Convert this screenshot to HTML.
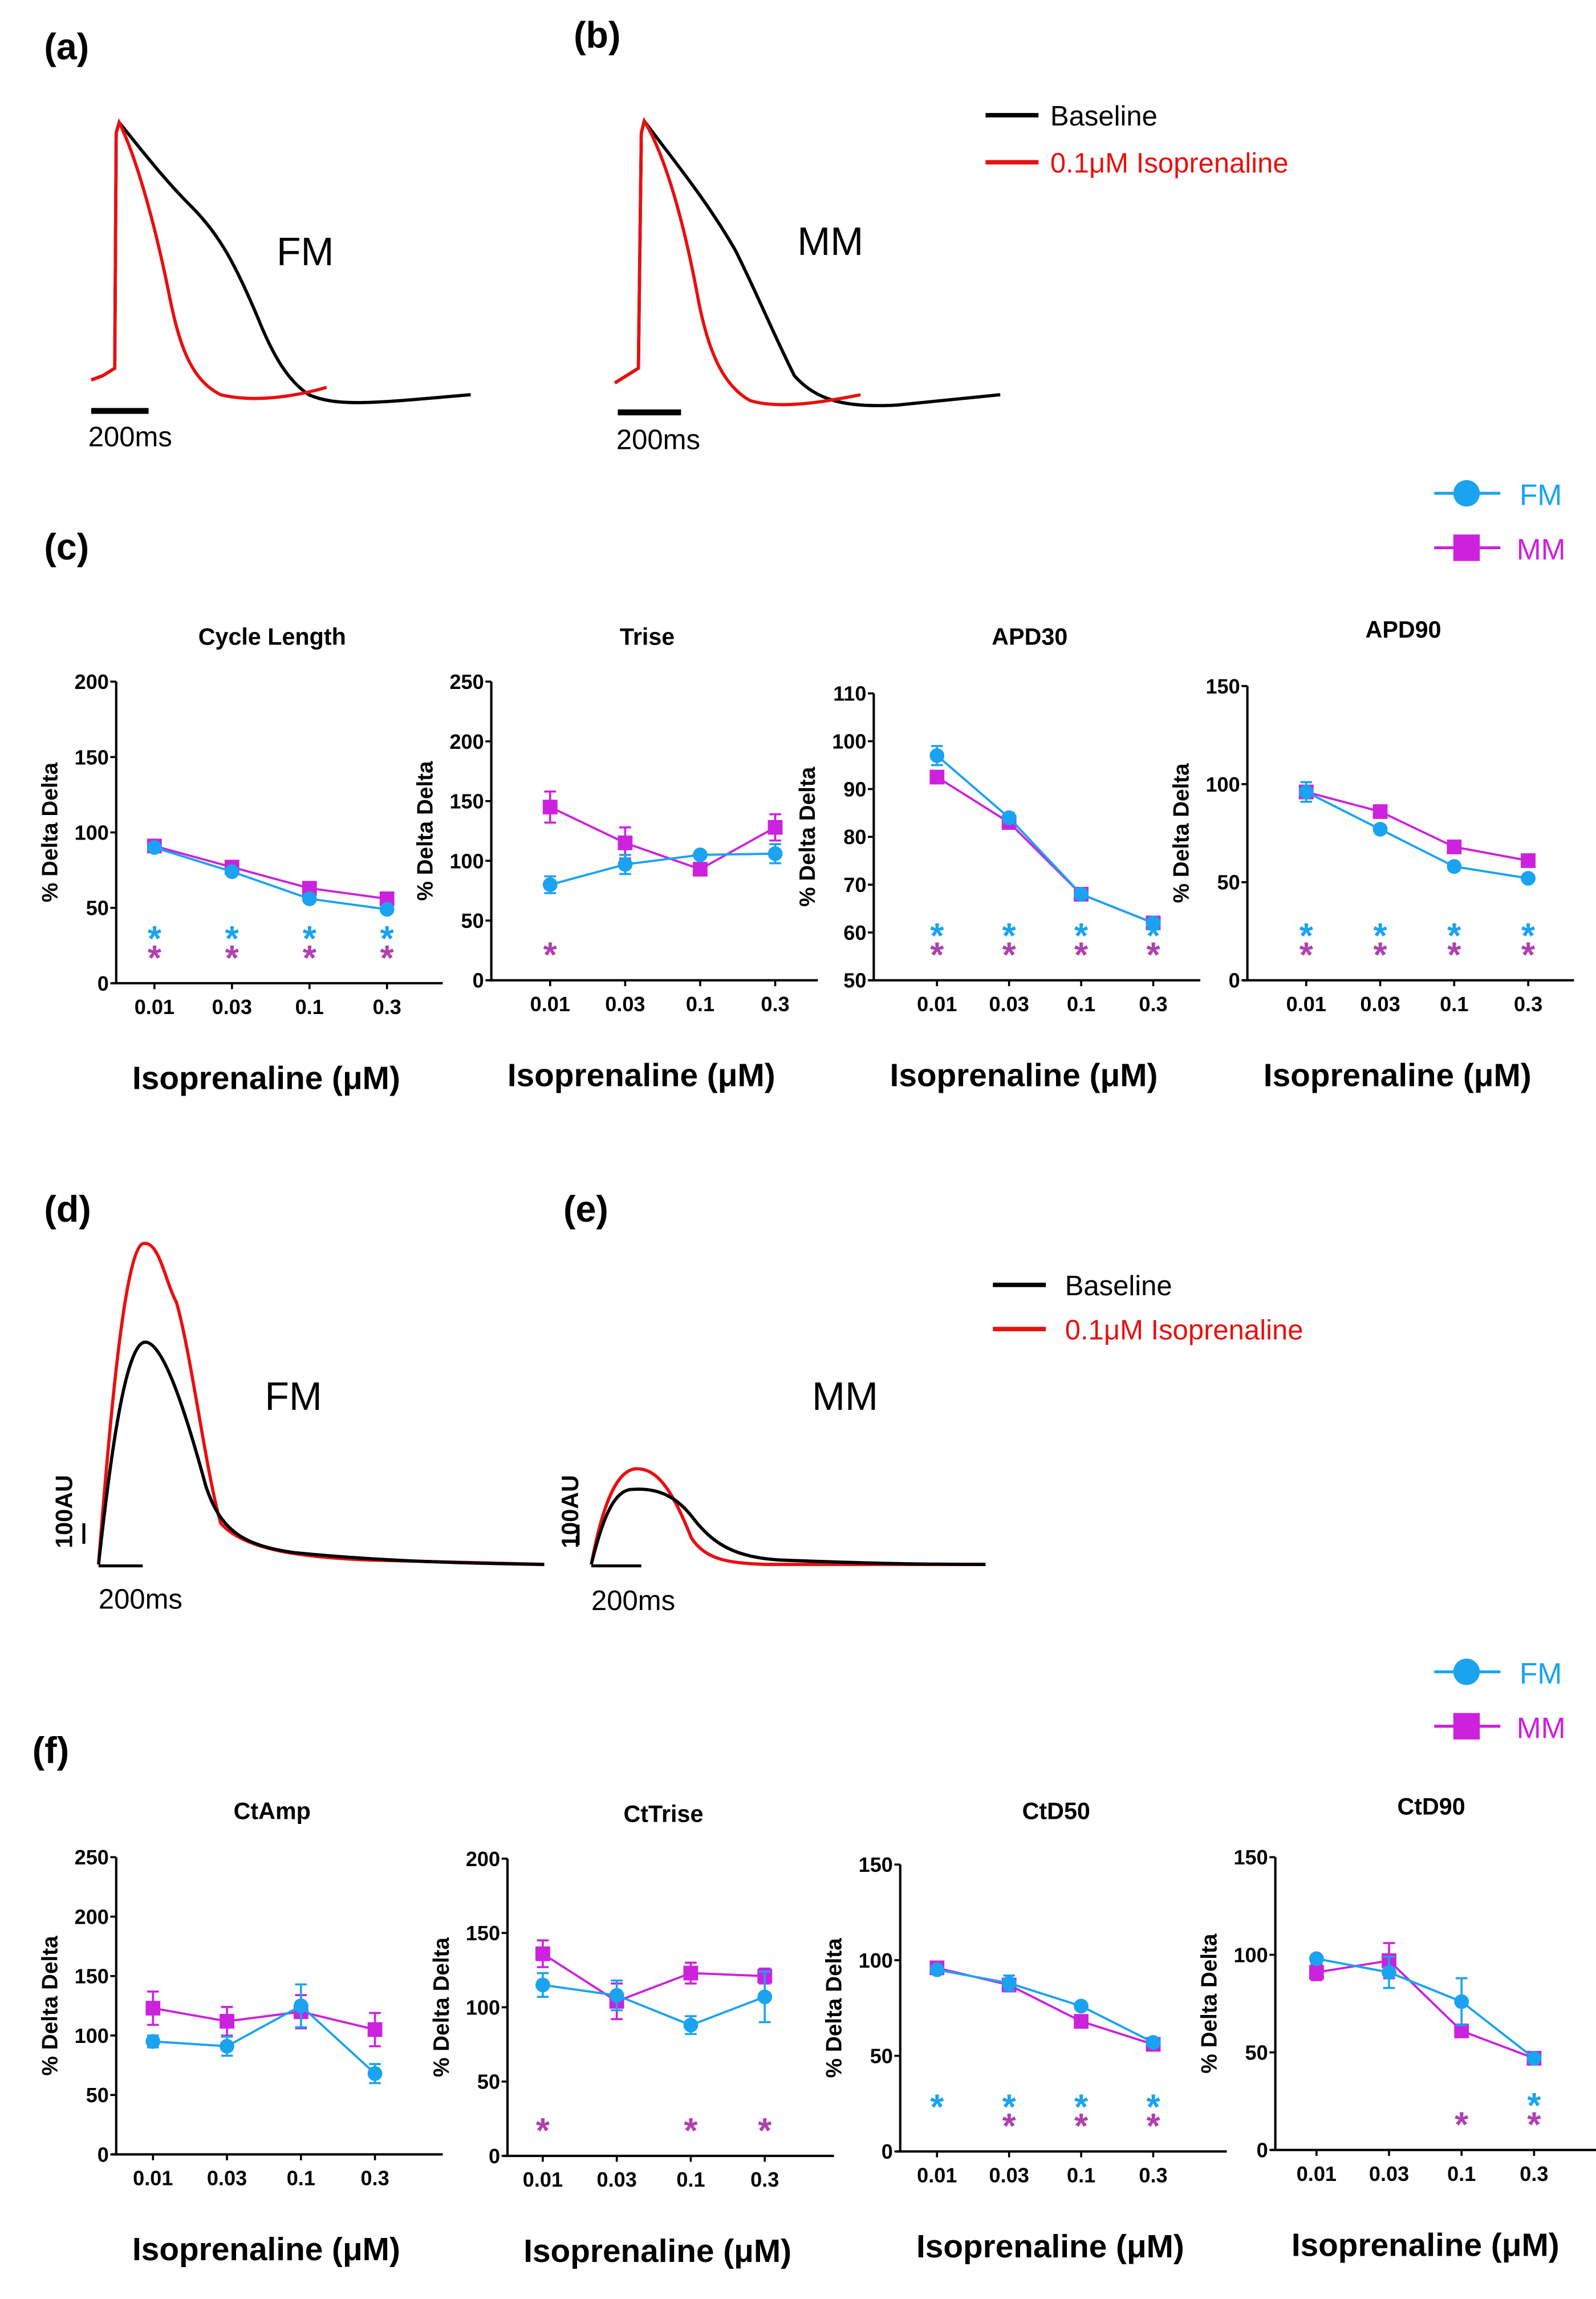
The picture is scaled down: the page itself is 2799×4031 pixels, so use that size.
<!DOCTYPE html>
<html><head><meta charset="utf-8"><style>
html,body{margin:0;padding:0;background:#fff}
svg{display:block;font-family:"Liberation Sans",Arial,sans-serif}
</style></head><body>
<svg id="fig" xmlns="http://www.w3.org/2000/svg" width="2799" height="4031" viewBox="0 0 1085 1562">
<g font-size="25" font-weight="bold">
<text x="30" y="40">(a)</text><text x="390" y="32">(b)</text><text x="30" y="380">(c)</text>
<text x="30" y="830">(d)</text><text x="383" y="830">(e)</text><text x="22" y="1198">(f)</text>
</g>
<g fill="none" stroke-width="2.2">
<path stroke="#000" d="M62,258 L70,255 L78,250 L79,90 L81,83 C95,100 110,120 130,140 C150,160 160,180 175,215 C185,240 195,258 210,268 C230,277 260,273 320,268"/>
<path stroke="#e81010" d="M62,258 L70,255 L78,250 L79,90 L81,83 C92,105 105,150 115,200 C122,235 130,258 150,268 C175,274 205,268 222,263"/>
<line x1="62" y1="279" x2="101" y2="279" stroke="#000" stroke-width="4"/>
<text x="60" y="303" font-size="19" stroke="none" fill="#000">200ms</text>
<text x="188" y="180" font-size="27" stroke="none" fill="#000">FM</text>
</g>
<g fill="none" stroke-width="2.2">
<path stroke="#000" d="M418,260 L426,255 L434,250 L436,90 L438,82 C455,105 480,135 500,170 C515,200 525,225 540,255 C555,272 575,277 610,275 C640,272 660,270 680,268"/>
<path stroke="#e81010" d="M418,260 L426,255 L434,250 L436,90 L438,82 C452,105 465,150 475,205 C482,240 492,262 510,272 C530,278 560,273 585,268"/>
<line x1="420" y1="280" x2="463" y2="280" stroke="#000" stroke-width="4"/>
<text x="419" y="305" font-size="19" stroke="none" fill="#000">200ms</text>
<text x="542" y="173" font-size="27" stroke="none" fill="#000">MM</text>
</g>
<g font-size="19">
<line x1="670" y1="78" x2="706" y2="78" stroke="#000" stroke-width="3"/><text x="714" y="85">Baseline</text>
<line x1="670" y1="110" x2="706" y2="110" stroke="#e81010" stroke-width="3"/><text x="714" y="117" fill="#e81010">0.1μM Isoprenaline</text>
</g>
<g fill="none" stroke-width="2.2">
<path stroke="#e81010" d="M67,1063 C75,960 85,850 97,845 C108,842 112,870 120,885 C130,920 140,1000 150,1035 C165,1052 200,1058 250,1060 L370,1063"/>
<path stroke="#000" d="M67,1063 C75,990 85,915 98,912 C110,910 125,955 140,1010 C150,1040 165,1050 200,1055 C250,1060 300,1062 370,1063"/>
<line x1="57" y1="1035" x2="57" y2="1049" stroke="#000" stroke-width="2"/>
<line x1="67" y1="1064" x2="97" y2="1064" stroke="#000" stroke-width="2"/>
<text transform="translate(49,1052) rotate(-90)" font-size="16" font-weight="bold" stroke="none" fill="#000">100AU</text>
<text x="67" y="1093" font-size="19" stroke="none" fill="#000">200ms</text>
<text x="180" y="958" font-size="27" stroke="none" fill="#000">FM</text>
</g>
<g fill="none" stroke-width="2.2">
<path stroke="#e81010" d="M402,1063 C410,1020 420,998 433,998 C448,998 458,1015 470,1045 C480,1060 495,1062 520,1063 L670,1063"/>
<path stroke="#000" d="M402,1063 C410,1030 418,1012 430,1012 C445,1011 458,1015 470,1030 C485,1050 500,1058 530,1060 C580,1062 620,1063 670,1063"/>
<line x1="393" y1="1036" x2="393" y2="1050" stroke="#000" stroke-width="2"/>
<line x1="402" y1="1064" x2="436" y2="1064" stroke="#000" stroke-width="2"/>
<text transform="translate(393,1052) rotate(-90)" font-size="16" font-weight="bold" stroke="none" fill="#000">100AU</text>
<text x="402" y="1094" font-size="19" stroke="none" fill="#000">200ms</text>
<text x="552" y="958" font-size="27" stroke="none" fill="#000">MM</text>
</g>
<g font-size="19">
<line x1="675" y1="873" x2="711" y2="873" stroke="#000" stroke-width="3"/><text x="724" y="880">Baseline</text>
<line x1="675" y1="903" x2="711" y2="903" stroke="#e81010" stroke-width="3"/><text x="724" y="910" fill="#e81010">0.1μM Isoprenaline</text>
</g>
<g id="charts"></g>
</svg>
<script>
// ---- data ----
const doses = ["0.01","0.03","0.1","0.3"];
const clFM=[90,74,56,49], clMM=[91,77,63,56], clFMe=[2,2,2,2], clMMe=[2,2,2,2];
const trFM=[80,97,105,106], trMM=[145,115,93,128], trFMe=[7,8,2,8], trMMe=[13,13,2,11];
const a30FM=[97,84,68,62], a30MM=[92.5,83,68,62], a30FMe=[2,1,1,0.5], a30MMe=[0.5,1,1,0.5];
const a90FM=[96,77,58,52], a90MM=[96,86,68,61], a90FMe=[5,2,2,1], a90MMe=[2,2,2,2];
const caFM=[95,91,125,68], caMM=[123,112,120,105], caFMe=[5,8,18,8], caMMe=[14,12,14,14];
const ctFM=[115,108,88,107], ctMM=[136,104,123,121], ctFMe=[8,10,6,17], ctMMe=[9,12,7,5];
const d50FM=[95,88,76,57], d50MM=[96,87,68,56], d50FMe=[2,4,2,2], d50MMe=[2,3,2,2];
const d90FM=[98,91,76,47], d90MM=[91,97,61,47], d90FMe=[2,8,12,2], d90MMe=[4,9,3,2];
const clStar=[[1,1,1,1],[1,1,1,1]], trStar=[[0,0,0,0],[1,0,0,0]], a30Star=[[1,1,1,1],[1,1,1,1]], a90Star=[[1,1,1,1],[1,1,1,1]];
const caStar=[[0,0,0,0],[0,0,0,0]], ctStar=[[0,0,0,0],[1,0,1,1]], d50Star=[[1,1,1,1],[0,1,1,1]], d90Star=[[0,0,0,1],[0,0,1,1]];
const ticksCL=[0,50,100,150,200], ticksTR=[0,50,100,150,200,250], ticksA30=[50,60,70,80,90,100,110], ticksA90=[0,50,100,150];
const ticksCA=[0,50,100,150,200,250], ticksCT=[0,50,100,150,200], ticksD50=[0,50,100,150], ticksD90=[0,50,100,150];

const NS="http://www.w3.org/2000/svg";
const root=document.getElementById('charts');
const CY="#1aa3f0", MG="#cc22dd", STM="#b040b0";
function mk(tag,attrs,parent){const e=document.createElementNS(NS,tag);for(const k in attrs)e.setAttribute(k,attrs[k]);(parent||root).appendChild(e);return e;}
function chart(o){
  const g=mk('g',{});
  
  
  const ymin=o.ticks[0], ymax=o.ticks[o.ticks.length-1];
  const Y=v=>o.y0-(v-ymin)/(ymax-ymin)*(o.y0-o.yTop);
  const X=i=>o.xs+i*o.dx;
  mk('line',{x1:o.ax,y1:o.yTop,x2:o.ax,y2:o.y0,stroke:'#000','stroke-width':1.6},g);
  mk('line',{x1:o.ax-3,y1:o.y0,x2:o.ax+222,y2:o.y0,stroke:'#000','stroke-width':1.6},g);
  o.ticks.forEach(t=>{mk('line',{x1:o.ax-4,y1:Y(t),x2:o.ax,y2:Y(t),stroke:'#000','stroke-width':1.4},g);
    const tx=mk('text',{x:o.ax-5,y:Y(t)+5,'text-anchor':'end','font-size':14,'font-weight':'bold'},g);tx.textContent=t;});
  doses.forEach((d,i)=>{mk('line',{x1:X(i),y1:o.y0,x2:X(i),y2:o.y0+4,stroke:'#000','stroke-width':1.4},g);
    const tx=mk('text',{x:X(i),y:o.y0+21,'text-anchor':'middle','font-size':14,'font-weight':'bold'},g);tx.textContent=d;});
  const ti=mk('text',{x:o.ax+106,y:o.titleY,'text-anchor':'middle','font-size':16,'font-weight':'bold'},g);ti.textContent=o.title;
  const yl=mk('text',{transform:`translate(${o.ax-40},${(o.yTop+o.y0)/2}) rotate(-90)`,'text-anchor':'middle','font-size':15,'font-weight':'bold'},g);yl.textContent='% Delta Delta';
  const xl=mk('text',{x:o.ax+102,y:o.y0+72,'text-anchor':'middle','font-size':22,'font-weight':'bold'},g);xl.textContent='Isoprenaline (μM)';
  [[o.mm,o.mme,MG,'sq','mm'],[o.fm,o.fme,CY,'ci','fm']].forEach(([vals,errs,col,shape,lab])=>{
    const s=mk('g',{},g);
    
    
    mk('polyline',{points:vals.map((v,i)=>X(i)+','+Y(v)).join(' '),fill:'none',stroke:col,'stroke-width':1.5},s);
    vals.forEach((v,i)=>{
      const e1=Y(v+errs[i]),e2=Y(v-errs[i]);
      mk('line',{x1:X(i),y1:e1,x2:X(i),y2:e2,stroke:col,'stroke-width':1.4},s);
      mk('line',{x1:X(i)-4,y1:e1,x2:X(i)+4,y2:e1,stroke:col,'stroke-width':1.4},s);
      mk('line',{x1:X(i)-4,y1:e2,x2:X(i)+4,y2:e2,stroke:col,'stroke-width':1.4},s);
      let m;
      if(shape==='sq')m=mk('rect',{x:X(i)-5,y:Y(v)-5,width:10,height:10,fill:col},s);
      else m=mk('circle',{cx:X(i),cy:Y(v),r:5,fill:col},s);
      
      
    });
  });
  o.stars[0].forEach((f,i)=>{if(f){const t=mk('text',{x:X(i),y:o.y0-22,'text-anchor':'middle','font-size':24,'font-weight':'bold',fill:CY},g);t.textContent='*';}});
  o.stars[1].forEach((f,i)=>{if(f){const t=mk('text',{x:X(i),y:o.y0-9,'text-anchor':'middle','font-size':24,'font-weight':'bold',fill:STM},g);t.textContent='*';}});
}
chart({name:'chart-cycle-length',title:'Cycle Length',ax:79,yTop:463,y0:668,xs:105,dx:52.7,titleY:438,ticks:ticksCL,fm:clFM,mm:clMM,fme:clFMe,mme:clMMe,stars:clStar});
chart({name:'chart-trise',title:'Trise',ax:334,yTop:463,y0:666,xs:374,dx:51,titleY:438,ticks:ticksTR,fm:trFM,mm:trMM,fme:trFMe,mme:trMMe,stars:trStar});
chart({name:'chart-apd30',title:'APD30',ax:594,yTop:471,y0:666,xs:637,dx:49,titleY:438,ticks:ticksA30,fm:a30FM,mm:a30MM,fme:a30FMe,mme:a30MMe,stars:a30Star});
chart({name:'chart-apd90',title:'APD90',ax:848,yTop:466,y0:666,xs:888,dx:50.3,titleY:433,ticks:ticksA90,fm:a90FM,mm:a90MM,fme:a90FMe,mme:a90MMe,stars:a90Star});
chart({name:'chart-ctamp',title:'CtAmp',ax:79,yTop:1262,y0:1464,xs:104,dx:50.3,titleY:1236,ticks:ticksCA,fm:caFM,mm:caMM,fme:caFMe,mme:caMMe,stars:caStar});
chart({name:'chart-cttrise',title:'CtTrise',ax:345,yTop:1263,y0:1465,xs:369,dx:50.3,titleY:1238,ticks:ticksCT,fm:ctFM,mm:ctMM,fme:ctFMe,mme:ctMMe,stars:ctStar});
chart({name:'chart-ctd50',title:'CtD50',ax:612,yTop:1267,y0:1462,xs:637,dx:49,titleY:1236,ticks:ticksD50,fm:d50FM,mm:d50MM,fme:d50FMe,mme:d50MMe,stars:d50Star});
chart({name:'chart-ctd90',title:'CtD90',ax:867,yTop:1262,y0:1461,xs:895,dx:49.3,titleY:1233,ticks:ticksD90,fm:d90FM,mm:d90MM,fme:d90FMe,mme:d90MMe,stars:d90Star});
function legend(y,name){
  const g=mk('g',{});
  
  
  mk('line',{x1:975,y1:y,x2:1020,y2:y,stroke:CY,'stroke-width':2},g);
  mk('circle',{cx:997,cy:y,r:9,fill:CY},g);
  const t1=mk('text',{x:1033,y:y+8,'font-size':20,fill:CY},g);t1.textContent='FM';
  mk('line',{x1:975,y1:y+37,x2:1020,y2:y+37,stroke:MG,'stroke-width':2},g);
  mk('rect',{x:988,y:y+28,width:18,height:18,fill:MG},g);
  const t2=mk('text',{x:1031,y:y+45,'font-size':20,fill:MG},g);t2.textContent='MM';
}
legend(335,'legend-c');
legend(1136,'legend-f');
</script>
</body></html>
